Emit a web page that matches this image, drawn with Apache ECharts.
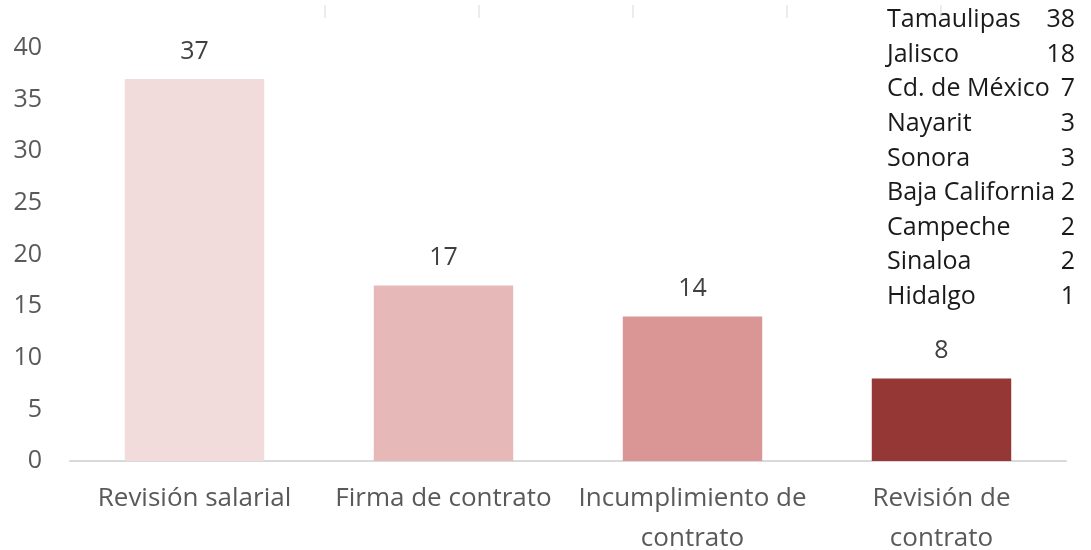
<!DOCTYPE html>
<html>
<head>
<meta charset="utf-8">
<script src="https://cdn.jsdelivr.net/npm/echarts@6/dist/echarts.min.js"></script>
<style>html,body{margin:0;padding:0;background:#fff;}#c{width:1091px;height:550px;}</style>
</head>
<body>
<div id="c"></div>
<script>
const categories = ['Revisión salarial', 'Firma de contrato', 'Incumplimiento de\ncontrato', 'Revisión de\ncontrato'];
const values = [37, 17, 14, 8];
const barColors = ['#f2dcdb', '#e6b9b8', '#d99694', '#953735'];
const states = ['Tamaulipas', 'Jalisco', 'Cd. de México', 'Nayarit', 'Sonora', 'Baja California', 'Campeche', 'Sinaloa', 'Hidalgo'];
const stateCounts = [38, 18, 7, 3, 3, 2, 2, 2, 1];

const FONT = '"Open Sans", sans-serif';
const FS = 25;

const chart = echarts.init(document.getElementById('c'), null, {renderer: 'canvas'});

const tableEls = [];
states.forEach((s, i) => {
  const y = 20 + i * 34.6;
  tableEls.push({type: 'text', x: 887, y: y, style: {text: s, font: FS + 'px ' + FONT, fill: '#1a1a1a', verticalAlign: 'middle'}});
  tableEls.push({type: 'text', x: 1075, y: y, style: {text: String(stateCounts[i]), font: FS + 'px ' + FONT, fill: '#1a1a1a', align: 'right', verticalAlign: 'middle'}});
});
[325, 479, 633, 787, 941].forEach(x => {
  tableEls.push({type: 'line', shape: {x1: x, y1: 5, x2: x, y2: 18}, style: {stroke: '#d9d9d9', lineWidth: 1}});
});

chart.setOption({
  animation: false,
  grid: {left: 70, right: 25, top: 48, bottom: 89, outerBoundsMode: 'none', containLabel: false},
  xAxis: {
    type: 'category',
    data: categories,
    axisLine: {lineStyle: {color: '#d9d9d9', width: 2}},
    axisTick: {show: false},
    axisLabel: {color: '#595959', fontSize: 26, fontFamily: FONT, margin: 18, lineHeight: 40, interval: 0}
  },
  yAxis: {
    type: 'value',
    min: 0, max: 40, interval: 5,
    axisLine: {show: false},
    axisTick: {show: false},
    splitLine: {show: false},
    axisLabel: {color: '#595959', fontSize: FS, fontFamily: FONT, margin: 28}
  },
  series: [{
    type: 'bar',
    barWidth: '56%',
    data: values.map((v, i) => ({value: v, itemStyle: {color: barColors[i]}})),
    label: {show: true, position: 'top', distance: 15, color: '#404040', fontSize: FS, fontFamily: FONT}
  }],
  graphic: tableEls
});
</script>
</body>
</html>
